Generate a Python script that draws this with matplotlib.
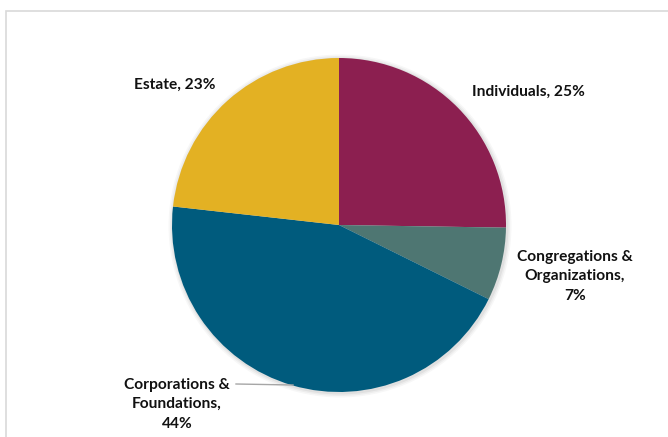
import matplotlib.pyplot as plt
from matplotlib.patches import Rectangle

labels = ['Individuals, 25%', 'Congregations &\nOrganizations,\n7%',
          'Corporations &\nFoundations,\n44%', 'Estate, 23%']
values = [25, 7, 44, 23]
colors = ['#8C1F50', '#4E7672', '#005B7D', '#E3B123']

# label positions in pixel coords (x, y from top)
label_pos = [(528, 92), (575, 276), (177, 404), (175, 85)]

W, H = 668, 437
fig = plt.figure(figsize=(W / 100, H / 100), dpi=100)
ax = fig.add_axes([0, 0, 1, 1])
ax.set_xlim(0, W)
ax.set_ylim(0, H)
ax.set_aspect('equal')
ax.axis('off')

# chart frame
ax.add_patch(Rectangle((5.5, -10), W, H - 10.5 + 10, fill=False,
                       edgecolor='#D9D9D9', linewidth=1.2))

cx, cy, r = 339, H - 225, 167

# soft shadow
for i, a in enumerate([0.05, 0.04, 0.03]):
    ax.pie([1], colors=['black'], radius=r + 1.5 + i * 1.5, center=(cx + 1, cy - 1),
           wedgeprops=dict(alpha=a, linewidth=0), frame=True)

ax.pie(values, colors=colors, startangle=90, counterclock=False,
       radius=r, center=(cx, cy), wedgeprops=dict(linewidth=0), frame=True)
ax.set_xlim(0, W)
ax.set_ylim(0, H)
ax.axis('off')

for text, (x, y) in zip(labels, label_pos):
    ax.text(x, H - y, text, ha='center', va='center', fontsize=11.2,
            fontweight='bold', family='Lato', linespacing=1.5, color='#111111')

# leader line for Corporations label
ax.plot([236, 293], [H - 384, H - 385], color='#A6A6A6', linewidth=1)

fig.savefig('out.png', dpi=100)
